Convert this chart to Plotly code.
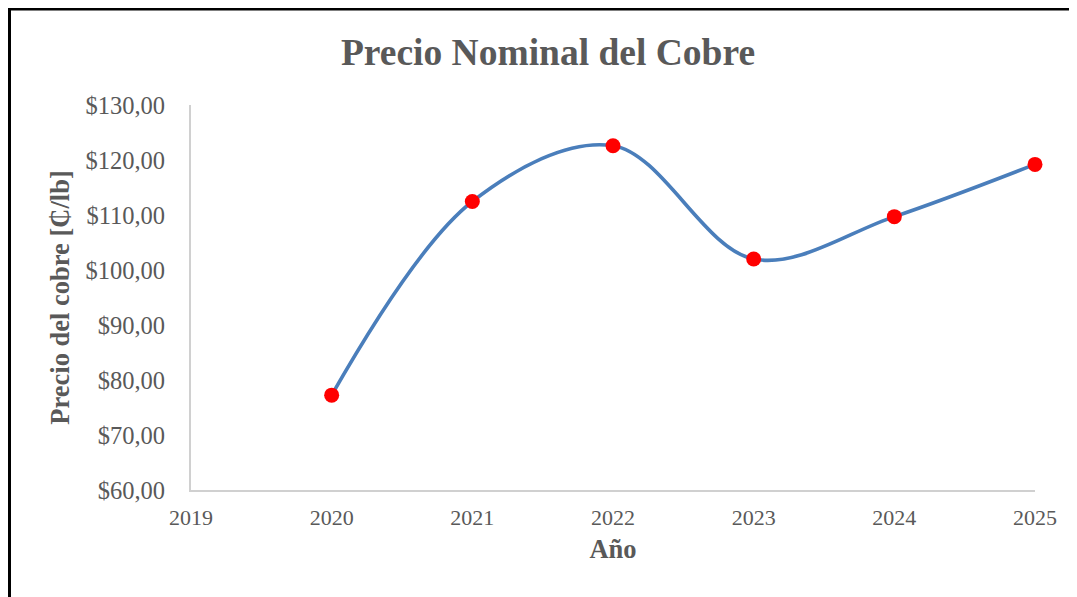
import plotly.graph_objects as go

years = [2020, 2021, 2022, 2023, 2024, 2025]
prices = [77.25, 112.45, 122.6, 102.0, 109.7, 119.2]

y_ticks = [60, 70, 80, 90, 100, 110, 120, 130]
y_tick_labels = ["$60,00", "$70,00", "$80,00", "$90,00", "$100,00", "$110,00", "$120,00", "$130,00"]
x_ticks = [2019, 2020, 2021, 2022, 2023, 2024, 2025]

# the page body has an 8px margin, so work in page pixels minus 8
OFF = 8
W, H = 1077 - OFF, 597 - OFF
L, R, T, B = 191 - OFF, 1035 - OFF, 105 - OFF, 490 - OFF
pw, ph = R - L, B - T

def px_x(x):
    return (x - OFF - L) / pw

def px_y(y):
    return (B - (y - OFF)) / ph

serif = "Liberation Serif, Times New Roman, serif"
grey = "#595959"

fig = go.Figure()
fig.add_trace(go.Scatter(
    x=years, y=prices, mode="lines+markers",
    line=dict(color="#4a7ebb", width=3.6, shape="spline", smoothing=1.0),
    marker=dict(color="#ff0000", size=15, line=dict(width=0)),
    cliponaxis=False, showlegend=False,
))

fig.update_layout(
    width=W, height=H, autosize=False,
    margin=dict(l=L, r=W - R, t=T, b=H - B, pad=0),
    paper_bgcolor="white", plot_bgcolor="white",
    title=dict(text="<b>Precio Nominal del Cobre</b>", x=(548 - OFF) / W, xanchor="center",
               y=1 - (52 - OFF) / H, yanchor="middle", yref="container",
               font=dict(family=serif, size=37.5, color=grey)),
    xaxis=dict(range=[2019, 2025], tickvals=x_ticks, ticktext=[str(v) for v in x_ticks],
               showgrid=False, zeroline=False, showline=True, linecolor="#d0d0d0", linewidth=2,
               ticks="", ticklabelstandoff=7,
               tickfont=dict(family=serif, size=22, color=grey),
               title=dict(text="<b>Año</b>", standoff=10,
                          font=dict(family=serif, size=26.5, color=grey))),
    yaxis=dict(range=[60, 130], tickvals=y_ticks, ticktext=y_tick_labels,
               showgrid=False, zeroline=False, showline=True, linecolor="#d0d0d0", linewidth=2,
               ticks="", ticklabelstandoff=19,
               tickfont=dict(family=serif, size=24.5, color=grey),
               title=dict(text="<b>Precio del cobre [₵/lb]</b>", standoff=8,
                          font=dict(family=serif, size=26.5, color=grey))),
    shapes=[dict(type="rect", xref="paper", yref="paper",
                 x0=px_x(9), x1=px_x(1090), y0=px_y(610), y1=px_y(8.5),
                 line=dict(color="black", width=4), fillcolor="rgba(0,0,0,0)", layer="above")],
)

fig.write_html("out.html")
